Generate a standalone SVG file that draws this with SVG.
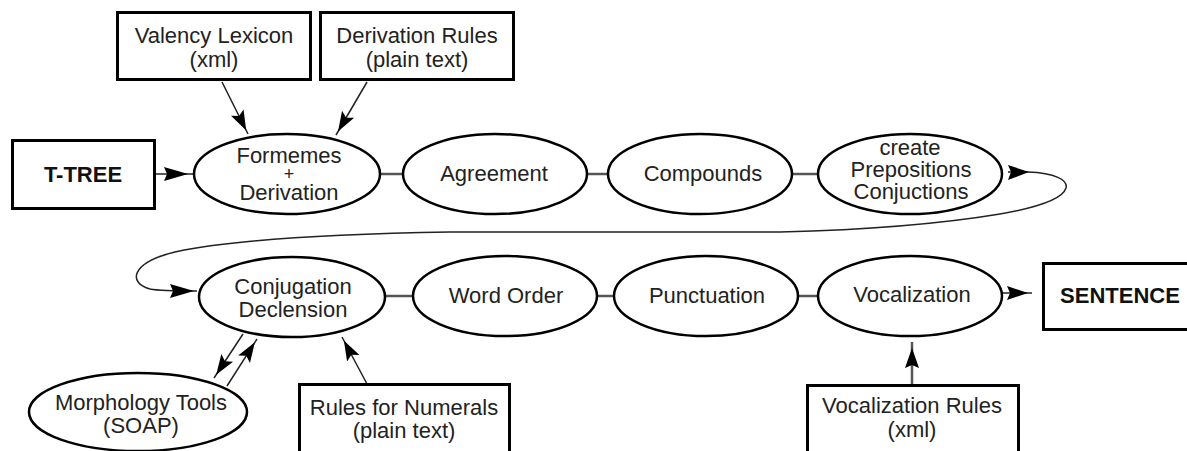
<svg xmlns="http://www.w3.org/2000/svg" width="1187" height="451" viewBox="0 0 1187 451">
<style>
  .box { fill: #fff; stroke: #000; stroke-width: 3; }
  .ell { fill: #fff; stroke: #000; stroke-width: 2.5; }
  text { font-family: "Liberation Sans", Arial, sans-serif; font-size: 22px; fill: #222; text-anchor: middle; }
  .b { font-weight: bold; fill: #111; }
  .sm { font-size: 18px; }
  .ln { fill: none; stroke: #222; stroke-width: 1.5; }
  .seq { fill: none; stroke: #555; stroke-width: 2.5; }
  .ah { fill: #000; stroke: none; }
</style>
<defs>
  <marker id="arr" markerUnits="userSpaceOnUse" markerWidth="30" markerHeight="20" viewBox="0 0 30 20" refX="24" refY="10" orient="auto">
    <path d="M0,3 L20,10 L0,17 L4,10 z" fill="#000"/>
  </marker>
</defs>

<g id="connectors">
  <line class="ln" x1="156" y1="174" x2="193" y2="174"/>
  <polygon class="ah" points="164,167 188,174 164,181 167,174"/>
  <line class="ln" x1="222" y1="82" x2="248" y2="134" marker-end="url(#arr)"/>
  <line class="ln" x1="367" y1="82" x2="336" y2="135" marker-end="url(#arr)"/>
  <line class="seq" x1="380" y1="174" x2="403" y2="174"/>
  <line class="seq" x1="588" y1="174" x2="609" y2="174"/>
  <line class="seq" x1="792" y1="174" x2="818" y2="174"/>
  <path class="ln" d="M1008,172 L1028,172 C1055,173 1068,180 1066,188 C1063,198 1040,207 1000,214 C940,224 860,230 780,232 L450,232 C330,234 230,240 175,252 C130,263 128,283 150,289 C160,291 175,291 197,291"/>
  <polygon class="ah" points="1008,165 1029,172 1008,180 1011,172"/>
  <polygon class="ah" points="170,284 194,291 170,298 173,291"/>
  <line class="seq" x1="385" y1="296" x2="414" y2="296"/>
  <line class="seq" x1="597" y1="296" x2="614" y2="296"/>
  <line class="seq" x1="798" y1="296" x2="818" y2="296"/>
  <line class="ln" x1="1002" y1="293" x2="1032" y2="293"/>
  <polygon class="ah" points="1007,286 1028,293 1007,300 1010,293"/>
  <line class="ln" x1="243" y1="334" x2="214" y2="378" marker-end="url(#arr)"/>
  <line class="ln" x1="227" y1="386" x2="257" y2="339" marker-end="url(#arr)"/>
  <line class="ln" x1="367" y1="384" x2="342" y2="337" marker-end="url(#arr)"/>
  <line class="seq" x1="912" y1="385" x2="912" y2="342"/>
  <polygon class="ah" points="905,368 912,348 919,368 912,365"/>
</g>

<g id="valency">
  <rect class="box" x="117.5" y="12.5" width="193" height="67"/>
  <text x="214" y="43">Valency Lexicon</text>
  <text x="214" y="67">(xml)</text>
</g>
<g id="derivation-rules">
  <rect class="box" x="320.5" y="12.5" width="193" height="67"/>
  <text x="417" y="43">Derivation Rules</text>
  <text x="417" y="67">(plain text)</text>
</g>
<g id="ttree">
  <rect class="box" x="12.5" y="140.5" width="142" height="68"/>
  <text class="b" x="83" y="182">T-TREE</text>
</g>
<g id="formemes">
  <ellipse class="ell" cx="287" cy="174" rx="93" ry="40"/>
  <text x="289" y="163">Formemes</text>
  <text class="sm" x="289" y="180">+</text>
  <text x="289" y="200">Derivation</text>
</g>
<g id="agreement">
  <ellipse class="ell" cx="495" cy="174" rx="92" ry="40"/>
  <text x="494" y="181">Agreement</text>
</g>
<g id="compounds">
  <ellipse class="ell" cx="700" cy="174" rx="92" ry="40"/>
  <text x="703" y="181">Compounds</text>
</g>
<g id="prepositions">
  <ellipse class="ell" cx="910" cy="174" rx="92" ry="40"/>
  <text x="910" y="155">create</text>
  <text x="911" y="177">Prepositions</text>
  <text x="911" y="199">Conjuctions</text>
</g>
<g id="conjugation">
  <ellipse class="ell" cx="292" cy="297" rx="93" ry="40"/>
  <text x="293" y="294">Conjugation</text>
  <text x="293" y="317">Declension</text>
</g>
<g id="word-order">
  <ellipse class="ell" cx="505" cy="296" rx="92" ry="40"/>
  <text x="506" y="303">Word Order</text>
</g>
<g id="punctuation">
  <ellipse class="ell" cx="706" cy="296" rx="92" ry="40"/>
  <text x="707" y="303">Punctuation</text>
</g>
<g id="vocalization">
  <ellipse class="ell" cx="910" cy="296" rx="92" ry="40"/>
  <text x="912" y="302">Vocalization</text>
</g>
<g id="sentence">
  <rect class="box" x="1043.5" y="263.5" width="160" height="66"/>
  <text class="b" x="1120" y="303">SENTENCE</text>
</g>
<g id="morphology">
  <ellipse class="ell" cx="138" cy="412" rx="109" ry="39"/>
  <text x="141" y="410">Morphology Tools</text>
  <text x="141" y="433">(SOAP)</text>
</g>
<g id="numerals">
  <rect class="box" x="299.5" y="384.5" width="210" height="80"/>
  <text x="404" y="415">Rules for Numerals</text>
  <text x="404" y="438">(plain text)</text>
</g>
<g id="vocalization-rules">
  <rect class="box" x="807.5" y="385.5" width="211" height="80"/>
  <text x="912" y="413">Vocalization Rules</text>
  <text x="912" y="437">(xml)</text>
</g>
</svg>
